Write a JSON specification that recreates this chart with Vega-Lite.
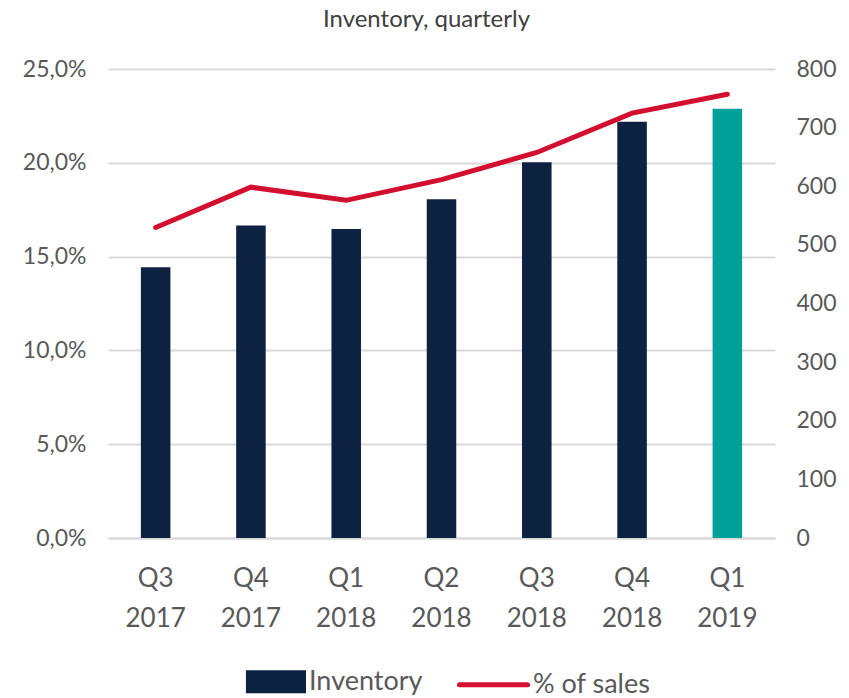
{
  "$schema": "https://vega.github.io/schema/vega-lite/v6.json",
  "width": 667,
  "height": 469,
  "autosize": {"type": "none"},
  "padding": {"left": 108, "top": 69, "right": 74, "bottom": 160},
  "background": "white",
  "config": {
    "font": "Lato",
    "view": {"stroke": null},
    "legend": {"layout": {"bottom": {"anchor": "middle"}}}
  },
  "title": {
    "text": "Inventory, quarterly",
    "fontSize": 24,
    "font": "Lato",
    "fontWeight": "normal",
    "color": "#404040",
    "offset": 26,
    "dx": -15
  },
  "data": {
    "values": [
      {"quarter": "Q3 2017", "inventory": 462, "pct": 16.55},
      {"quarter": "Q4 2017", "inventory": 533, "pct": 18.7},
      {"quarter": "Q1 2018", "inventory": 527, "pct": 18.0},
      {"quarter": "Q2 2018", "inventory": 578, "pct": 19.1},
      {"quarter": "Q3 2018", "inventory": 641, "pct": 20.55},
      {"quarter": "Q4 2018", "inventory": 710, "pct": 22.65},
      {"quarter": "Q1 2019", "inventory": 732, "pct": 23.65}
    ]
  },
  "encoding": {
    "x": {
      "field": "quarter",
      "type": "nominal",
      "sort": null,
      "scale": {"paddingInner": 0.69, "paddingOuter": 0.345},
      "axis": {
        "title": null,
        "labelAngle": 0,
        "labelExpr": "split(datum.label, ' ')",
        "labelFontSize": 26,
        "labelColor": "#595959",
        "labelLineHeight": 40,
        "labelPadding": 27,
        "ticks": false,
        "domain": true,
        "domainColor": "#d9d9d9",
        "domainWidth": 2
      }
    }
  },
  "layer": [
    {
      "mark": {"type": "bar"},
      "encoding": {
        "y": {
          "field": "inventory",
          "type": "quantitative",
          "scale": {"domain": [0, 800]},
          "axis": {
            "orient": "right",
            "title": null,
            "values": [0, 100, 200, 300, 400, 500, 600, 700, 800],
            "grid": false,
            "domain": false,
            "ticks": false,
            "labelPadding": 21,
            "labelFontSize": 23,
            "labelColor": "#595959"
          }
        },
        "color": {
          "condition": {"test": "datum.quarter === 'Q1 2019'", "value": "#00a19b"},
          "datum": "Inventory",
          "type": "nominal",
          "scale": {"domain": ["Inventory", "% of sales"], "range": ["#0d2240", "#d20f2f"]},
          "legend": {
            "orient": "bottom",
            "direction": "horizontal",
            "title": null,
            "labelFontSize": 27,
            "labelFont": "Lato",
            "labelColor": "#595959",
            "labelLimit": 300,
            "symbolSize": 4624,
            "columnPadding": 26,
            "labelOffset": 3,
            "offset": 14,
            "encode": {
              "symbols": {
                "update": {
                  "shape": {"signal": "datum.value === 'Inventory' ? 'M-0.62,-0.265H1V0.265H-0.62Z' : 'M-1,0H1'"},
                  "fill": {"signal": "datum.value === 'Inventory' ? '#0d2240' : 'transparent'"},
                  "stroke": {"signal": "datum.value === 'Inventory' ? 'transparent' : '#d20f2f'"},
                  "strokeWidth": {"value": 5},
                  "strokeCap": {"value": "round"},
                  "opacity": {"value": 1}
                }
              }
            }
          }
        }
      }
    },
    {
      "mark": {"type": "line", "strokeWidth": 5, "strokeCap": "round"},
      "encoding": {
        "y": {
          "field": "pct",
          "type": "quantitative",
          "scale": {"domain": [0, 25]},
          "axis": {
            "orient": "left",
            "title": null,
            "values": [0, 5, 10, 15, 20, 25],
            "grid": true,
            "gridColor": "#d9d9d9",
            "gridWidth": 2,
            "domain": false,
            "ticks": false,
            "labelPadding": 22,
            "labelFontSize": 23,
            "labelColor": "#595959",
            "labelExpr": "replace(format(datum.value, '.1f'), '.', ',') + '%'"
          }
        },
        "color": {"datum": "% of sales", "type": "nominal"}
      }
    }
  ],
  "resolve": {"scale": {"y": "independent"}}
}
